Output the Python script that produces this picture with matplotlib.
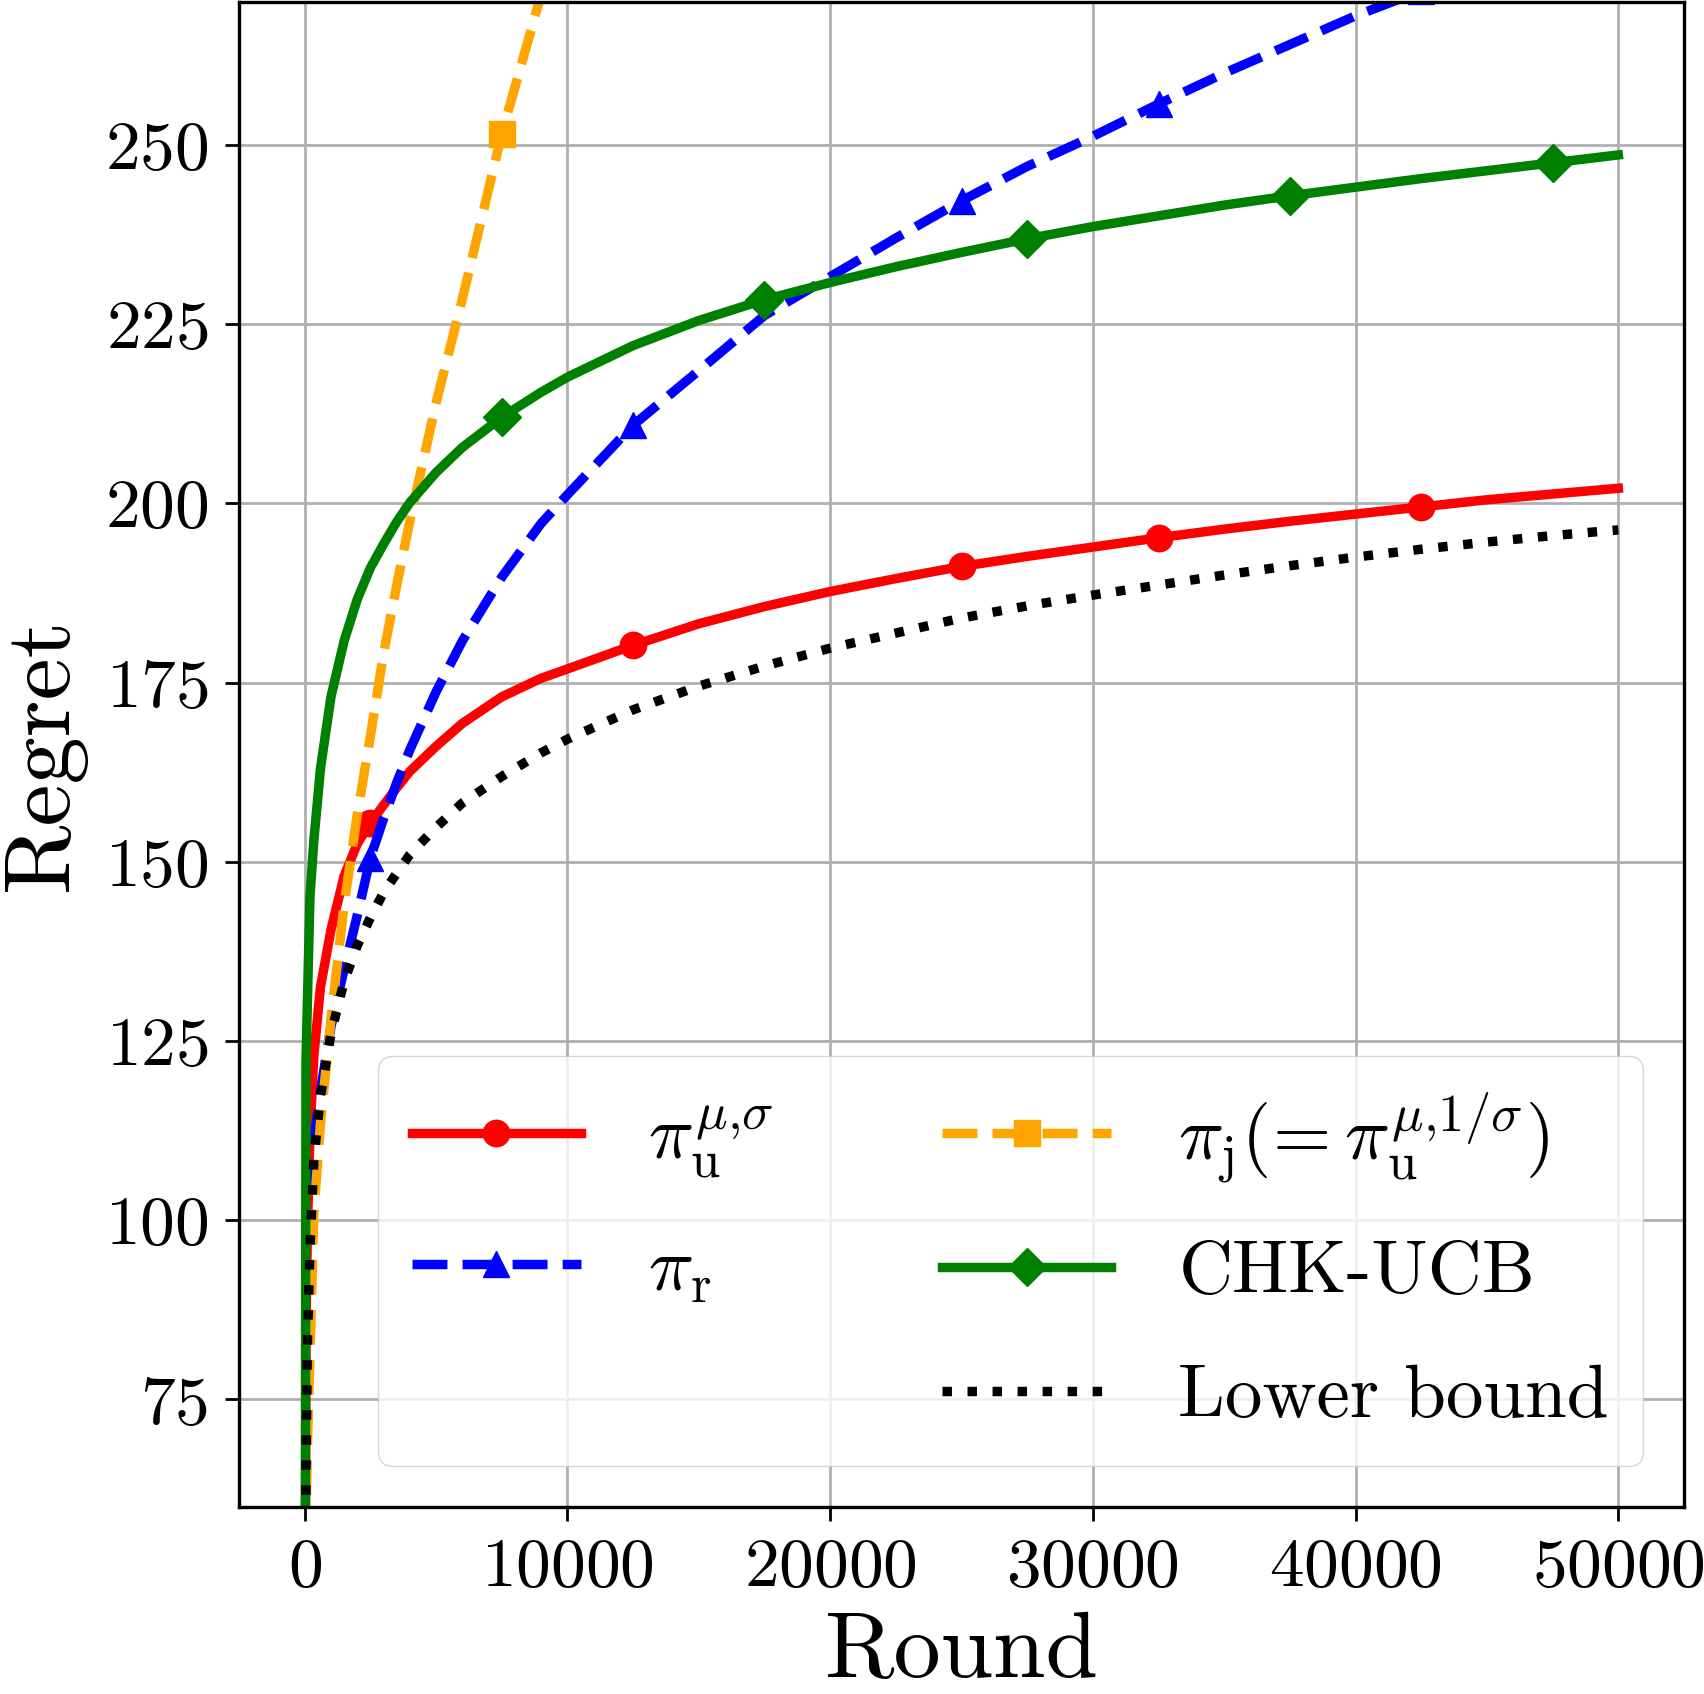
import matplotlib
matplotlib.use("Agg")
import matplotlib.pyplot as plt
from matplotlib.lines import Line2D

plt.rcParams["font.family"] = "serif"
plt.rcParams["font.serif"] = ["cmr10"]
plt.rcParams["mathtext.fontset"] = "cm"
plt.rcParams["axes.formatter.use_mathtext"] = True

# rounds (shared x grid)
rounds = [0, 50, 100, 200, 350, 600, 1000, 1500, 2000, 2500, 3000, 3500, 4000,
          5000, 6000, 7500, 9000, 10000, 12500, 15000, 17500, 20000, 22500,
          25000, 27500, 30000, 32500, 35000, 37500, 40000, 42500, 45000, 47500,
          50000]

regret_u = [0, 85, 98, 112, 123, 132.5, 140.5, 148, 152.5, 155.4, 157.9, 160.3,
            162.6, 166.1, 169.3, 173, 175.6, 176.9, 180.2, 183.2, 185.6, 187.7,
            189.5, 191.2, 192.6, 193.9, 195.2, 196.4, 197.5, 198.5, 199.5, 200.5,
            201.3, 202.1]
regret_r = [0, 70, 90, 103, 111, 118, 127, 135, 142.5, 150.5, 156, 161, 165.6,
            173.7, 180.8, 189.7, 197.2, 201.2, 210.9, 218.5, 226.2, 231.6, 237,
            242.2, 247, 251.2, 255.7, 260, 264, 268, 271.5, 275, 278.5, 282]
regret_j = [0, 58, 68, 81, 101, 113.5, 128, 144, 156.5, 167.5, 179, 188.5, 197.5,
            214, 228.5, 251.5, 271, 283, 313, 340, 366, 392, 417, 442, 466, 490,
            513, 536, 559, 581, 603, 625, 646, 667]
regret_chk = [0, 122, 130, 145, 153, 163, 173, 180.8, 186.6, 191, 194.3, 197.4,
              200.1, 204.3, 207.8, 212, 215.5, 217.6, 222, 225.5, 228.4, 230.8,
              233, 235, 236.9, 238.6, 240.1, 241.6, 242.9, 244.1, 245.3, 246.4,
              247.5, 248.6]
lower_bound = [0, 65, 82, 96, 108.5, 117.3, 126, 133.3, 138.3, 142.2, 145.7,
               148.4, 151, 154.8, 158.2, 161.9, 165.2, 167.1, 171.2, 174.5,
               177.3, 179.8, 181.9, 184, 185.7, 187.2, 188.6, 190, 191.3, 192.5,
               193.6, 194.6, 195.5, 196.3]

marks_ur = [2500, 12500, 25000, 32500, 42500]
marks_jc = [7500, 17500, 27500, 37500, 47500]

labels = [r"$\pi_{\mathrm{u}}^{\mu{,}\sigma}$", r"$\pi_{\mathrm{r}}$",
          r"$\pi_{\mathrm{j}}(\!=\pi_{\mathrm{u}}^{\mu{,}1/\sigma})$", "CHK-UCB",
          "Lower bound"]


def idx(marks):
    return [rounds.index(m) for m in marks]


fig = plt.figure(figsize=(17.04, 16.94), dpi=100)
ax = fig.add_axes([239 / 1704, 1 - 1507 / 1694, 1445 / 1704, 1505.5 / 1694])

lw, ms = 6.8, 19
l_u, = ax.plot(rounds, regret_u, "-", color="red", lw=lw, marker="o", ms=ms,
               markevery=idx(marks_ur))
l_r, = ax.plot(rounds, regret_r, "--", color="blue", lw=lw, marker="^", ms=ms,
               markevery=idx(marks_ur))
l_j, = ax.plot(rounds, regret_j, "--", color="orange", lw=lw, marker="s", ms=ms,
               markevery=idx(marks_jc))
l_c, = ax.plot(rounds, regret_chk, "-", color="green", lw=lw, marker="D", ms=ms,
               markevery=idx(marks_jc))
l_lb, = ax.plot(rounds, lower_bound, ":", color="black", lw=lw)

ax.set_xlim(-2500, 52500)
ax.set_ylim(60, 270)
ax.set_xticks([0, 10000, 20000, 30000, 40000, 50000])
ax.set_yticks([75, 100, 125, 150, 175, 200, 225, 250])
ax.grid(True, color="#b0b0b0", lw=2)
for s in ax.spines.values():
    s.set_linewidth(2.4)
ax.tick_params(labelsize=50, length=10, width=2, pad=12)
ax.set_xlabel("Round", fontsize=68, labelpad=10)
ax.set_ylabel("Regret", fontsize=68, labelpad=14)

blank = Line2D([], [], linestyle="none")
ax.legend([l_u, l_r, blank, l_j, l_c, l_lb],
          [labels[0], labels[1], " ", labels[2], labels[3], labels[4]],
          loc="lower right", ncol=2, fontsize=54, handlelength=2.25,
          handletextpad=0.9, columnspacing=2.25, labelspacing=0.75,
          borderpad=0.45, borderaxespad=0.55)

fig.savefig("out.png", dpi=100)
